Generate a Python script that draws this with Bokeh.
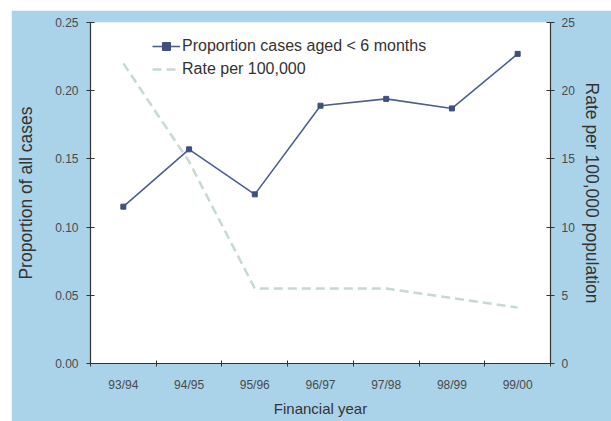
from bokeh.plotting import figure
from bokeh.models import (Range1d, LinearAxis, FixedTicker, Legend, LegendItem,
                          ColumnDataSource, NumeralTickFormatter)
from bokeh.embed import file_html
from bokeh.resources import INLINE

years = ["93/94", "94/95", "95/96", "96/97", "97/98", "98/99", "99/00"]
proportion = [0.115, 0.157, 0.124, 0.189, 0.194, 0.187, 0.227]
rate = [22.0, 14.8, 5.5, 5.5, 5.5, 4.8, 4.1]
left_ticks = [0.0, 0.05, 0.10, 0.15, 0.20, 0.25]
right_ticks = [0, 5, 10, 15, 20, 25]

xs = list(range(len(years)))
src = ColumnDataSource(dict(x=xs, prop=proportion, rate=rate))

BG = "#aad3ea"
FONT = "Liberation Sans"

p = figure(width=600, height=411, output_backend="svg", toolbar_location=None,
           x_range=Range1d(-0.5, len(years) - 0.5), y_range=Range1d(0, 0.25),
           min_border_left=79, min_border_right=61, min_border_top=12,
           min_border_bottom=58, margin=(10, 0, 0, 11))
p.border_fill_color = BG
p.background_fill_color = "white"
p.outline_line_color = None
p.xgrid.visible = False
p.ygrid.visible = False
p.extra_y_ranges = {"rate": Range1d(0, 25)}

# x axis
xa = p.xaxis[0]
xa.ticker = FixedTicker(ticks=xs, minor_ticks=[i - 0.5 for i in range(len(years) + 1)])
xa.major_label_overrides = {i: y for i, y in enumerate(years)}
xa.major_tick_in = 0
xa.major_tick_out = 0
xa.minor_tick_in = 3
xa.minor_tick_out = 3
xa.minor_tick_line_color = "#333333"
xa.axis_label = "Financial year"
xa.major_label_standoff = 11

# left axis
ya = p.yaxis[0]
ya.ticker = FixedTicker(ticks=left_ticks)
ya.formatter = NumeralTickFormatter(format="0.00")
ya.axis_label = "Proportion of all cases"
ya.major_label_standoff = 8
ya.axis_label_standoff = 16

# right axis
ra = LinearAxis(y_range_name="rate", axis_label="Rate per 100,000 population",
                ticker=FixedTicker(ticks=right_ticks))
p.add_layout(ra, "right")
ra.major_label_standoff = 7
ra.axis_label_standoff = 4

for ax in [xa, ya, ra]:
    ax.axis_line_color = "#333333"
    ax.axis_line_width = 1.2
    ax.major_tick_line_color = "#333333"
    ax.major_label_text_font = FONT
    ax.major_label_text_font_size = "12px"
    ax.major_label_text_color = "#4a4a4a"
    ax.axis_label_text_font = FONT
    ax.axis_label_text_font_style = "normal"
    ax.axis_label_text_color = "#333333"
for ax in [ya, ra]:
    ax.major_tick_in = 4
    ax.major_tick_out = 4
    ax.minor_tick_line_color = None
    ax.axis_label_text_font_size = "17.5px"
xa.axis_label_text_font_size = "15px"
xa.axis_label_standoff = 5

# series
rate_line = p.line("x", "rate", source=src, y_range_name="rate",
                   line_color="#c6d9d5", line_width=2.5, line_dash="9 5")
prop_line = p.line("x", "prop", source=src, line_color="#4d5f8e", line_width=1.6)
prop_pts = p.scatter("x", "prop", source=src, marker="square", size=5,
                     fill_color="#3f4f7e", line_color="#3f4f7e")

legend = Legend(items=[
    LegendItem(label="Proportion cases aged < 6 months", renderers=[prop_line, prop_pts]),
    LegendItem(label="Rate per 100,000", renderers=[rate_line]),
], location=(62, 284))
legend.border_line_color = None
legend.background_fill_alpha = 0
legend.padding = 0
legend.margin = 0
legend.spacing = 3
legend.glyph_width = 28
legend.glyph_height = 20
legend.label_standoff = 2
legend.label_text_font = FONT
legend.label_text_font_size = "16px"
legend.label_text_color = "#333333"
p.add_layout(legend, "center")

open("out.html", "w").write(file_html(p, INLINE))
